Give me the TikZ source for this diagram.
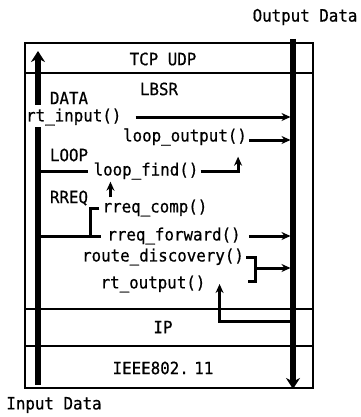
\documentclass[tikz,border=0pt]{standalone}
\usepackage{fontspec}
\usepackage{tikz}
\usetikzlibrary{arrows.meta, calc}
\newfontfamily\codemono[FakeStretch=0.93, FakeBold=0.6]{DejaVu Sans Mono}
\newcommand{\codefont}{\codemono\fontsize{17}{19}\selectfont}

\tikzset{
  lbl/.style={font=\codefont, inner sep=2pt},
  layer/.style={line width=2pt},
  bus/.style={line width=5.5pt},
  call/.style={line width=3pt},
  calltip/.style={-{Stealth[length=9pt, width=8pt]}},
  bustip/.style={-{Stealth[length=11pt, width=14pt]}},
}

\begin{document}
\begin{tikzpicture}[x=1pt, y=-1pt]
  \useasboundingbox (0,0) rectangle (360,417);

  % protocol stack
  \draw[layer] (25,43) rectangle (313,388);
  \draw[layer] (25,73) -- (313,73);
  \draw[layer] (25,309) -- (313,309);
  \draw[layer] (25,346) -- (313,346);

  % data paths
  \coordinate (inTop)  at (38,51);
  \coordinate (inMid)  at (38,105);
  \coordinate (inLow)  at (38,127);
  \coordinate (inBot)  at (38,385);
  \coordinate (outTop) at (293,39);
  \coordinate (outBot) at (293,389);
  \draw[bus, bustip] (inMid) -- (inTop);
  \draw[bus] (inLow) -- (inBot);
  \draw[bus, bustip] (outTop) -- (outBot);

  \node[lbl] (outData) at (305,17) {Output Data};
  \node[lbl] (inData) at (54,405) {Input Data};
  \node[lbl] (tcp) at (163,59) {TCP UDP};
  \node[lbl] (lbsr) at (159,89) {LBSR};
  \node[lbl] (dataLbl) at (69,98) {DATA};
  \node[lbl, anchor=west] (rtIn) at (24,117) {rt\_input()};
  \node[lbl] (loopOut) at (185,137) {loop\_output()};
  \node[lbl] (loopLbl) at (69,155) {LOOP};
  \node[lbl] (loopFind) at (146,171) {loop\_find()};
  \node[lbl] (rreqLbl) at (69,198) {RREQ};
  \node[lbl] (rreqComp) at (155,208) {rreq\_comp()};
  \node[lbl] (rreqFwd) at (174,236) {rreq\_forward()};
  \node[lbl] (routeDisc) at (163,257) {route\_discovery()};
  \node[lbl] (rtOut) at (153,284) {rt\_output()};
  \node[lbl] (ip) at (163,327) {IP};
  \node[lbl] (ieee) at (163,368) {IEEE802.\kern-4pt\ 11};

  \coordinate (discJoin) at ([xshift=9pt, yshift=-11pt]routeDisc.east);
  \coordinate (ipTap) at (291,321);

  \draw[call, calltip, shorten >=2.5pt] ([xshift=12pt]rtIn.east) -- (rtIn.east -| outTop);
  \draw[call, calltip, shorten >=2.5pt] ([yshift=-3pt]loopOut.east) -- ([yshift=-3pt]loopOut.east -| outTop);
  \draw[call, shorten >=3pt] (inLow |- loopFind.west) -- (loopFind.west);
  \draw[call, calltip] (loopFind.east) -| ([xshift=-11pt, yshift=-9pt]loopOut.south east);
  \draw[call, calltip] ([xshift=19pt]loopFind.south west |- rreqComp.north) -- ([xshift=19pt]loopFind.south west);
  \draw[call, shorten <=1pt] (rreqComp.west) -| ([xshift=-15pt]rreqFwd.west);
  \draw[call, shorten >=4pt] (inLow |- rreqFwd.west) -- (rreqFwd.west);
  \draw[call, calltip, shorten >=2.5pt] ([xshift=6pt]rreqFwd.east) -- (rreqFwd.east -| outTop);
  \draw[call] (routeDisc.east) -| ([xshift=9pt, yshift=-24pt]routeDisc.east) -- ++(-7,0);
  \draw[call, calltip, shorten >=2.5pt] (discJoin) -- (discJoin -| outTop);
  \draw[call, calltip] (ipTap) -| ([xshift=12pt]rtOut.east);
\end{tikzpicture}
\end{document}
